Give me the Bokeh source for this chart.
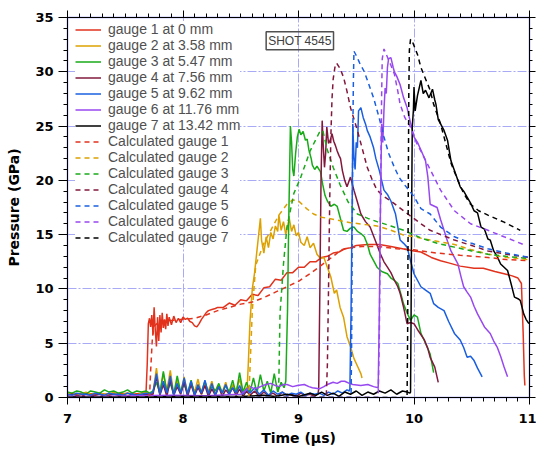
from bokeh.plotting import figure
from bokeh.models import (ColumnDataSource, Legend, LegendItem, SingleIntervalTicker,
                          LinearAxis, Label, Range1d)
from bokeh.embed import file_html
from bokeh.resources import INLINE

# ---------------- data (time in microseconds, pressure in GPa) ----------------
PRE_T = [7.00, 7.04, 7.08, 7.12, 7.16, 7.20, 7.24, 7.28, 7.32, 7.36, 7.40, 7.44,
         7.48, 7.52, 7.56, 7.60, 7.64, 7.68, 7.71]
NOISE_T = [7.74, 7.77, 7.80, 7.83, 7.86, 7.89, 7.92, 7.95, 7.98, 8.01, 8.04, 8.07,
           8.10, 8.13, 8.16, 8.19, 8.22, 8.25, 8.28, 8.31, 8.34, 8.37, 8.40, 8.43,
           8.46, 8.49, 8.52, 8.55]

G2_PRE = [0.3, 0.4, 0.2, 0.3, 0.5, 0.3, 0.2, 0.4, 0.3, 0.3, 0.5, 0.2, 0.3, 0.4, 0.3, 0.2, 0.4, 0.5, 0.3]
G3_PRE = [0.5, 0.4, 0.6, 0.5, 0.3, 0.6, 0.5, 0.4, 0.7, 0.5, 0.6, 0.4, 0.5, 0.7, 0.4, 0.6, 0.5, 0.6, 0.4]
G5_PRE = [0.3, 0.2, 0.4, 0.3, 0.3, 0.2, 0.4, 0.3, 0.2, 0.4, 0.3, 0.3, 0.2, 0.4, 0.3, 0.2, 0.3, 0.4, 0.3]
G4_PRE = [0.2, 0.3, 0.2, 0.1, 0.3, 0.2, 0.2, 0.3, 0.1, 0.2, 0.3, 0.2, 0.2, 0.1, 0.3, 0.2, 0.2, 0.3, 0.2]

G2_NOISE = [0.4, 2.7, 0.3, 2.2, 0.6, 2.5, 0.3, 1.6, 0.4, 1.9, 0.3, 1.4, 0.5, 1.7,
            0.3, 1.2, 0.6, 1.5, 0.3, 1.1, 0.5, 1.4, 0.3, 1.2, 0.6, 1.7, 0.4, 0.9]
G3_NOISE = [0.6, 1.4, 0.4, 2.4, 0.5, 1.3, 0.3, 2.0, 0.5, 1.2, 0.4, 1.6, 0.3, 1.1,
            0.5, 1.5, 0.4, 1.0, 0.6, 1.3, 0.4, 1.1, 0.5, 1.6, 0.3, 2.3, 0.5, 1.4]
G5_NOISE = [0.5, 2.2, 0.3, 1.5, 0.4, 2.0, 0.2, 1.3, 0.4, 1.8, 0.3, 1.5, 0.2, 1.2,
            0.4, 1.6, 0.3, 1.3, 0.2, 1.0, 0.4, 1.2, 0.3, 0.9, 0.4, 1.1, 0.3, 0.8]
G4_NOISE = [0.3, 1.9, 0.2, 1.2, 0.1, 1.6, 0.2, 1.0, 0.3, 1.4, 0.1, 1.2, 0.2, 0.9,
            0.3, 1.1, 0.1, 0.8, 0.2, 1.0, 0.1, 0.7, 0.3, 0.9, 0.2, 0.8, 0.1, 0.6]

# gauge 1 at 0 mm (measured)
G1 = [(7.00, 0.3), (7.04, 0.35), (7.08, 0.25), (7.12, 0.4), (7.16, 0.3), (7.20, 0.35),
      (7.24, 0.3), (7.28, 0.4), (7.32, 0.3), (7.36, 0.35), (7.40, 0.3), (7.44, 0.4),
      (7.48, 0.35), (7.52, 0.4), (7.56, 0.3), (7.60, 0.35), (7.64, 0.4), (7.68, 0.5),
      (7.69, 3.0), (7.70, 6.8), (7.71, 7.3), (7.72, 6.5), (7.73, 7.6), (7.74, 5.8),
      (7.75, 8.3), (7.76, 6.2), (7.77, 4.7), (7.78, 7.4), (7.79, 5.2), (7.80, 7.6),
      (7.81, 6.0), (7.82, 7.8), (7.83, 6.4), (7.84, 7.2), (7.85, 6.3), (7.86, 7.7),
      (7.87, 6.6), (7.88, 7.4), (7.90, 6.7), (7.92, 7.5), (7.94, 6.9), (7.96, 7.3),
      (7.98, 6.9), (8.00, 7.4), (8.02, 7.2), (8.04, 7.3), (8.06, 7.0), (8.08, 6.9),
      (8.10, 6.6), (8.12, 6.5), (8.14, 6.8), (8.16, 7.2), (8.18, 7.5), (8.20, 7.8),
      (8.22, 8.0), (8.25, 8.1), (8.28, 8.2), (8.30, 8.3), (8.35, 8.3), (8.40, 8.7),
      (8.45, 8.5), (8.50, 9.0), (8.55, 8.9), (8.60, 9.5), (8.65, 9.4), (8.70, 10.1),
      (8.75, 10.2), (8.80, 10.9), (8.85, 10.8), (8.90, 11.5), (8.95, 11.5), (9.00, 12.0),
      (9.05, 12.0), (9.10, 12.5), (9.15, 12.5), (9.20, 12.9), (9.25, 13.0), (9.30, 13.3),
      (9.35, 13.4), (9.40, 13.7), (9.45, 13.8), (9.50, 14.0), (9.60, 14.1), (9.70, 14.1),
      (9.80, 13.9), (9.90, 13.7), (10.00, 13.5), (10.06, 13.4), (10.15, 12.9),
      (10.23, 12.6), (10.30, 12.4), (10.40, 12.1), (10.52, 11.9), (10.60, 11.9),
      (10.70, 11.6), (10.78, 11.4), (10.85, 11.2), (10.90, 11.0), (10.93, 10.5),
      (10.945, 6.0), (10.955, 2.0), (10.96, 1.1)]

# gauge 2 at 3.58 mm
G2_RISE = [(8.555, 0.8), (8.565, 3.0), (8.58, 7.0), (8.60, 10.0), (8.62, 11.5), (8.64, 13.5),
           (8.66, 15.5), (8.67, 16.5), (8.68, 14.5), (8.70, 13.3), (8.72, 14.8), (8.74, 13.8),
           (8.76, 15.2), (8.78, 14.6), (8.80, 15.8), (8.82, 15.3), (8.83, 16.8), (8.85, 15.4),
           (8.87, 16.2), (8.89, 15.0), (8.92, 16.5), (8.94, 15.3), (8.96, 15.9), (8.98, 14.9),
           (9.00, 15.2), (9.02, 14.3), (9.05, 14.0), (9.075, 14.8), (9.10, 13.8), (9.13, 14.2),
           (9.16, 13.2), (9.19, 12.8), (9.22, 12.9), (9.25, 12.0), (9.28, 11.1), (9.31, 9.6),
           (9.33, 9.9), (9.36, 8.3), (9.39, 7.4), (9.42, 5.6), (9.45, 4.7), (9.48, 3.6),
           (9.51, 2.9), (9.54, 2.2), (9.55, 1.8)]

# gauge 3 at 5.47 mm
G3_LATE = [(8.58, 0.5), (8.61, 1.8), (8.64, 0.4), (8.67, 2.1), (8.70, 0.6), (8.73, 1.5),
           (8.76, 0.4), (8.79, 2.2), (8.82, 0.5), (8.85, 1.4), (8.875, 0.9)]
G3_RISE = [(8.89, 1.5), (8.905, 8.0), (8.915, 16.0), (8.925, 22.0), (8.93, 25.0), (8.94, 23.5),
           (8.95, 21.0), (8.96, 20.4), (8.975, 22.5), (8.99, 24.0), (9.005, 24.7), (9.02, 24.2),
           (9.04, 24.5), (9.06, 23.7), (9.075, 23.8), (9.09, 22.8), (9.11, 22.0), (9.12, 21.4),
           (9.14, 21.0), (9.16, 21.3), (9.19, 20.8), (9.21, 19.6), (9.23, 18.6), (9.25, 18.1),
           (9.28, 17.6), (9.31, 17.8), (9.335, 17.6), (9.36, 16.6), (9.39, 15.4), (9.42, 15.3),
           (9.45, 15.6), (9.48, 15.7), (9.51, 15.3), (9.54, 15.1), (9.57, 14.8), (9.60, 14.0),
           (9.62, 13.2), (9.65, 12.6), (9.68, 12.0), (9.72, 11.6), (9.77, 11.4), (9.80, 11.0),
           (9.83, 10.8), (9.86, 10.5), (9.89, 9.4), (9.91, 8.6), (9.94, 7.8), (9.97, 7.1),
           (10.00, 7.6), (10.03, 7.4), (10.06, 5.9), (10.10, 5.0), (10.14, 4.0), (10.17, 2.3)]

# gauge 4 at 7.56 mm
G4_LATE = [(8.58, 0.2), (8.62, 0.6), (8.66, 0.1), (8.70, 0.5), (8.74, 0.2), (8.78, 0.4),
           (8.82, 0.1), (8.86, 0.5), (8.90, 0.2), (8.94, 0.3), (8.98, 0.1), (9.02, 0.4),
           (9.06, 0.2), (9.10, 0.3), (9.14, 0.1), (9.17, 0.4)]
G4_RISE = [(9.175, 0.8), (9.185, 10.0), (9.195, 20.0), (9.205, 25.5), (9.215, 23.0), (9.225, 21.2),
           (9.235, 22.5), (9.245, 24.9), (9.26, 23.4), (9.275, 23.7), (9.29, 24.3), (9.305, 23.6),
           (9.32, 23.2), (9.335, 22.7), (9.35, 22.3), (9.364, 22.0), (9.38, 20.9), (9.40, 20.0),
           (9.42, 19.4), (9.45, 20.3), (9.48, 19.1), (9.51, 18.0), (9.54, 16.9), (9.58, 16.2),
           (9.62, 15.7), (9.66, 14.6), (9.71, 13.2), (9.74, 12.5), (9.77, 12.0), (9.80, 11.5),
           (9.83, 10.8), (9.86, 10.2), (9.88, 9.6), (9.91, 8.3), (9.94, 6.8), (9.97, 6.9),
           (10.00, 6.8), (10.04, 6.1), (10.09, 5.3), (10.12, 4.5), (10.14, 3.7), (10.18, 2.8),
           (10.21, 1.4)]

# gauge 5 at 9.62 mm
G5_LATE = [(8.58, 0.4), (8.62, 0.9), (8.66, 0.3), (8.70, 0.7), (8.74, 0.2), (8.78, 0.6),
           (8.82, 0.3), (8.86, 0.5), (8.90, 0.2), (8.94, 0.4), (8.98, 0.3), (9.02, 0.5),
           (9.06, 0.2), (9.10, 0.4), (9.14, 0.3), (9.18, 0.4), (9.22, 0.2), (9.26, 0.5),
           (9.30, 0.3), (9.34, 0.6), (9.38, 0.4), (9.42, 0.7), (9.44, 0.6)]
G5_RISE = [(9.445, 0.8), (9.455, 8.0), (9.465, 18.0), (9.47, 25.2), (9.48, 22.1), (9.49, 21.0),
           (9.50, 23.5), (9.51, 23.0), (9.52, 26.4), (9.54, 26.7), (9.56, 25.8), (9.58, 25.2),
           (9.595, 24.6), (9.62, 24.0), (9.65, 23.0), (9.67, 22.0), (9.70, 20.9), (9.72, 20.0),
           (9.74, 19.1), (9.77, 18.7), (9.80, 18.1), (9.84, 16.9), (9.86, 15.7), (9.88, 14.5),
           (9.91, 14.2), (9.94, 13.85), (9.97, 12.6), (10.00, 11.4), (10.03, 10.8), (10.06, 10.2),
           (10.10, 9.9), (10.14, 9.6), (10.17, 8.65), (10.21, 8.3), (10.26, 8.0), (10.30, 7.0),
           (10.35, 5.9), (10.40, 5.3), (10.43, 4.6), (10.46, 3.7), (10.49, 3.8), (10.52, 3.4),
           (10.55, 2.7), (10.59, 1.9)]

# gauge 6 at 11.76 mm
G6 = [(7.00, 0.1), (7.30, 0.1), (7.60, 0.15), (7.90, 0.2), (8.20, 0.15), (8.50, 0.3),
      (8.55, 0.7), (8.58, 1.0), (8.62, 0.8), (8.65, 0.9), (8.69, 1.1), (8.72, 1.2), (8.76, 1.3),
      (8.80, 1.1), (8.83, 1.0), (8.87, 1.2), (8.90, 1.2), (8.95, 1.0), (8.99, 1.1), (9.05, 1.2),
      (9.09, 1.0), (9.12, 0.9), (9.18, 0.8), (9.22, 1.0), (9.25, 1.2), (9.30, 1.4), (9.335, 1.3),
      (9.37, 1.5), (9.40, 1.5), (9.44, 1.3), (9.47, 1.2), (9.54, 1.1), (9.60, 1.2), (9.65, 1.0),
      (9.69, 0.9), (9.70, 8.0), (9.71, 18.0), (9.72, 25.2), (9.73, 23.5), (9.74, 26.5),
      (9.75, 28.5), (9.76, 28.0), (9.77, 30.4), (9.78, 31.2), (9.80, 31.3), (9.82, 30.4),
      (9.83, 30.0), (9.85, 29.6), (9.88, 28.8), (9.91, 27.6), (9.94, 26.7), (9.97, 25.3),
      (10.00, 24.0), (10.03, 23.5), (10.06, 22.8), (10.10, 21.8), (10.12, 20.3), (10.14, 17.8),
      (10.20, 17.5), (10.23, 16.4), (10.26, 15.4), (10.29, 14.4), (10.32, 13.5), (10.35, 12.9),
      (10.38, 12.3), (10.41, 11.0), (10.43, 10.2), (10.46, 9.7), (10.49, 9.25), (10.52, 8.4),
      (10.55, 7.7), (10.58, 7.1), (10.61, 6.5), (10.66, 5.9), (10.69, 5.2), (10.72, 4.65),
      (10.75, 3.8), (10.78, 2.8), (10.81, 1.9)]

# gauge 7 at 13.42 mm
G7 = [(7.00, 0.05), (7.50, 0.05), (8.00, 0.1), (8.50, 0.1), (8.70, 0.2), (8.80, 0.1),
      (8.90, 0.3), (9.00, 0.1), (9.10, 0.4), (9.15, 0.2), (9.20, 0.5), (9.25, 0.2), (9.30, 0.4),
      (9.35, 0.1), (9.40, 0.5), (9.45, 0.3), (9.50, 0.6), (9.55, 0.2), (9.60, 0.5), (9.65, 0.3),
      (9.70, 0.6), (9.75, 0.4), (9.80, 0.7), (9.85, 0.3), (9.90, 0.6), (9.94, 0.5), (9.965, 0.4),
      (9.97, 0.5), (9.975, 8.0), (9.98, 18.0), (9.985, 24.9), (9.995, 26.5), (10.00, 28.6),
      (10.01, 26.4), (10.03, 27.8), (10.06, 29.2), (10.08, 28.0), (10.10, 28.3), (10.13, 27.6),
      (10.16, 28.4), (10.18, 27.4), (10.19, 27.0), (10.21, 25.6), (10.23, 25.2), (10.26, 24.6),
      (10.29, 23.7), (10.32, 21.8), (10.35, 20.9), (10.38, 20.0), (10.40, 19.4), (10.43, 19.0),
      (10.46, 18.45), (10.49, 17.9), (10.52, 17.2), (10.55, 17.0), (10.58, 15.7), (10.61, 15.5),
      (10.64, 14.6), (10.66, 14.5), (10.69, 13.5), (10.72, 13.0), (10.75, 12.3), (10.78, 12.0),
      (10.81, 11.7), (10.84, 10.5), (10.87, 9.25), (10.90, 9.1), (10.92, 8.95), (10.95, 7.7),
      (10.97, 7.2), (10.995, 6.8)]

# calculated gauges
C1 = [(7.00, 0.0), (7.71, 0.0), (7.72, 2.5), (7.735, 5.5), (7.75, 6.6), (7.80, 7.0), (7.90, 7.1),
      (8.00, 7.2), (8.10, 7.3), (8.20, 7.6), (8.30, 8.0), (8.40, 8.3), (8.50, 8.6), (8.60, 8.8),
      (8.70, 9.2), (8.80, 9.7), (8.90, 10.2), (9.00, 10.7), (9.10, 11.4), (9.20, 12.2),
      (9.30, 13.0), (9.37, 13.6), (9.45, 13.8), (9.55, 13.9), (9.70, 13.9), (9.85, 13.7),
      (10.00, 13.6), (10.20, 13.3), (10.40, 13.1), (10.64, 12.9), (10.80, 12.7), (11.00, 12.6)]
C2 = [(7.00, 0.0), (8.57, 0.0), (8.585, 4.0), (8.60, 8.0), (8.63, 12.2), (8.70, 14.2),
      (8.76, 15.4), (8.83, 16.8), (8.90, 17.8), (8.95, 18.2), (9.00, 18.1), (9.07, 17.4),
      (9.13, 16.9), (9.20, 16.6), (9.31, 16.4), (9.45, 16.1), (9.60, 15.9), (9.68, 15.8),
      (9.80, 15.4), (9.90, 15.0), (10.00, 14.8), (10.14, 14.5), (10.35, 14.1), (10.50, 13.6),
      (10.64, 13.2), (10.80, 12.9), (11.00, 12.7)]
C3 = [(7.00, 0.0), (8.82, 0.0), (8.83, 1.6), (8.84, 7.7), (8.87, 12.3), (8.90, 15.7),
      (8.96, 18.8), (9.02, 20.3), (9.10, 22.7), (9.18, 24.4), (9.21, 24.6), (9.25, 22.8),
      (9.30, 21.2), (9.36, 19.6), (9.43, 18.0), (9.51, 16.9), (9.60, 16.5), (9.68, 16.2),
      (9.80, 15.8), (9.91, 15.4), (10.06, 14.7), (10.20, 14.2), (10.35, 13.85), (10.50, 13.5),
      (10.64, 13.2), (10.80, 13.0), (11.00, 12.8)]
C4 = [(7.00, 0.0), (9.24, 0.0), (9.25, 3.0), (9.26, 10.0), (9.27, 18.0), (9.28, 24.0),
      (9.29, 27.5), (9.30, 29.3), (9.315, 30.4), (9.33, 30.8), (9.36, 30.3), (9.39, 29.5),
      (9.42, 28.2), (9.45, 26.7), (9.51, 24.6), (9.55, 23.0), (9.595, 21.2), (9.64, 20.0),
      (9.68, 19.1), (9.74, 18.5), (9.80, 18.1), (9.91, 17.2), (10.06, 16.0), (10.14, 15.4),
      (10.35, 14.5), (10.50, 14.0), (10.64, 13.5), (10.80, 13.2), (11.00, 12.9)]
C5 = [(7.00, 0.0), (9.455, 0.0), (9.46, 5.0), (9.465, 15.0), (9.47, 24.0), (9.475, 29.0),
      (9.48, 31.9), (9.50, 31.5), (9.53, 30.8), (9.57, 30.0), (9.61, 28.8), (9.65, 27.6),
      (9.70, 25.7), (9.74, 24.0), (9.78, 22.5), (9.83, 21.2), (9.87, 20.3), (9.91, 19.7),
      (10.00, 18.5), (10.06, 17.4), (10.14, 16.9), (10.23, 15.7), (10.35, 14.8), (10.50, 14.2),
      (10.64, 13.7), (10.80, 13.3), (11.00, 12.9)]
C6 = [(7.00, 0.0), (9.69, 0.0), (9.70, 6.0), (9.71, 18.0), (9.72, 28.0), (9.725, 31.2),
      (9.74, 32.1), (9.76, 31.6), (9.80, 30.6), (9.83, 29.8), (9.86, 28.2), (9.88, 27.0),
      (9.92, 25.8), (9.97, 24.9), (10.02, 23.5), (10.06, 22.7), (10.14, 21.0), (10.23, 19.1),
      (10.35, 17.2), (10.49, 16.0), (10.64, 15.4), (10.78, 14.8), (10.97, 14.0)]
C7 = [(7.00, 0.0), (9.94, 0.0), (9.945, 6.0), (9.95, 18.0), (9.955, 28.0), (9.96, 32.0),
      (9.97, 33.0), (9.985, 32.8), (10.00, 32.4), (10.03, 31.6), (10.06, 30.4), (10.09, 29.6),
      (10.14, 28.3), (10.17, 27.0), (10.23, 25.2), (10.28, 23.2), (10.32, 21.6), (10.38, 20.0),
      (10.43, 18.8), (10.49, 17.8), (10.56, 17.2), (10.64, 16.8), (10.78, 16.15), (10.92, 15.4)]

LABELS_MEAS = ["gauge 1 at 0 mm", "gauge 2 at 3.58 mm", "gauge 3 at 5.47 mm",
               "gauge 4 at 7.56 mm", "gauge 5 at 9.62 mm", "gauge 6 at 11.76 mm",
               "gauge 7 at 13.42 mm"]
LABELS_CALC = ["Calculated gauge 1", "Calculated gauge 2", "Calculated gauge 3",
               "Calculated gauge 4", "Calculated gauge 5", "Calculated gauge 6",
               "Calculated gauge 7"]
COLORS = ["#e2321c", "#dca000", "#18aa18", "#82183c", "#1a5fe0", "#9848f0", "#000000"]

# ---------------- assemble series ----------------
def base(vals_pre, vals_noise):
    return list(zip(PRE_T, vals_pre)) + list(zip(NOISE_T, vals_noise))

meas = [
    G1,
    base(G2_PRE, G2_NOISE) + G2_RISE,
    base(G3_PRE, G3_NOISE) + G3_LATE + G3_RISE,
    base(G4_PRE, G4_NOISE) + G4_LATE + G4_RISE,
    base(G5_PRE, G5_NOISE) + G5_LATE + G5_RISE,
    G6,
    G7,
]
calc = [C1, C2, C3, C4, C5, C6, C7]

# ---------------- figure ----------------
p = figure(width=536, height=449, x_range=Range1d(7, 11), y_range=Range1d(0, 35),
           output_backend="svg", toolbar_location=None,
           min_border_left=67, min_border_right=7, min_border_top=17, min_border_bottom=52)
p.background_fill_color = "white"
p.border_fill_color = "white"
p.outline_line_color = "#8c8cff"
p.outline_line_width = 1.5

xt = SingleIntervalTicker(interval=1, num_minor_ticks=10)
yt = SingleIntervalTicker(interval=5, num_minor_ticks=5)
p.xaxis.ticker = xt
p.yaxis.ticker = yt
p.xgrid.ticker = xt
p.ygrid.ticker = yt
p.grid.grid_line_color = "#a8aaf6"
p.grid.grid_line_dash = "9 2 2 2"
p.grid.grid_line_width = 1

FONT_B = "DejaVu Sans"
for ax in (p.xaxis[0], p.yaxis[0]):
    ax.axis_line_color = "black"
    ax.major_tick_line_color = "black"
    ax.minor_tick_line_color = "black"
    ax.major_tick_in = 0
    ax.minor_tick_in = 0
    ax.major_label_text_font = FONT_B
    ax.major_label_text_font_style = "bold"
    ax.major_label_text_font_size = "13px"
    ax.major_label_text_color = "black"
    ax.axis_label_text_font = FONT_B
    ax.axis_label_text_font_style = "bold"
    ax.axis_label_text_font_size = "14px"
    ax.axis_label_text_color = "black"

p.yaxis.major_tick_out = 9
p.yaxis.minor_tick_out = 4
p.yaxis.major_label_standoff = 5
p.yaxis.axis_label = "Pressure (GPa)"
p.yaxis.axis_label_standoff = 10

p.xaxis.major_tick_out = 7
p.xaxis.minor_tick_out = 4
p.xaxis.major_label_standoff = 9
p.xaxis.axis_label = "Time (\u03bcs)"
p.xaxis.axis_label_standoff = 4

top = LinearAxis(ticker=xt, major_tick_out=7, minor_tick_out=4, major_tick_in=0, minor_tick_in=0,
                 major_label_text_font_size="0px", major_label_text_color=None,
                 major_label_standoff=-4, axis_label_standoff=0, axis_line_color="black")
right = LinearAxis(ticker=yt, major_tick_out=6, minor_tick_out=3, major_tick_in=0, minor_tick_in=0,
                   major_label_text_font_size="0px", major_label_text_color=None,
                   major_label_standoff=-4, axis_label_standoff=0, axis_line_color="black")
p.add_layout(top, "above")
p.add_layout(right, "right")

meas_r = []
for data, c in zip(meas, COLORS):
    t, v = zip(*data)
    src = ColumnDataSource(dict(t=list(t), p=list(v)))
    meas_r.append(p.line("t", "p", source=src, line_color=c, line_width=1.5))
calc_r = []
for data, c in zip(calc, COLORS):
    t, v = zip(*data)
    src = ColumnDataSource(dict(t=list(t), p=list(v)))
    calc_r.append(p.line("t", "p", source=src, line_color=c, line_width=1.5, line_dash="5 4"))

items = [LegendItem(label=lab, renderers=[r]) for lab, r in zip(LABELS_MEAS, meas_r)]
items += [LegendItem(label=lab, renderers=[r]) for lab, r in zip(LABELS_CALC, calc_r)]

# legend placed in screen pixels from the frame's bottom-left corner
legend = Legend(items=items, location=(8, 152), padding=4, spacing=0,
                glyph_width=26, glyph_height=15, label_height=15, label_standoff=7,
                label_text_font="Liberation Sans", label_text_font_size="14px",
                label_text_color="#505050", border_line_color=None,
                background_fill_color="white", background_fill_alpha=1.0)
p.add_layout(legend)

# "SHOT 4545" box
outer = Label(x=8.72, y=32.86, text="SHOT 4545", text_font="Liberation Sans",
              text_font_size="12px", text_alpha=0.0, text_baseline="middle",
              padding=5, border_line_color="#808080", border_line_width=1,
              background_fill_color="white")
inner = Label(x=8.72, y=32.86, text="SHOT 4545", text_font="Liberation Sans",
              text_font_size="12px", text_color="#404040", text_baseline="middle",
              padding=2, border_line_color="#505050", border_line_width=1.5)
p.add_layout(outer)
p.add_layout(inner)

open("out.html", "w").write(file_html(p, INLINE))
